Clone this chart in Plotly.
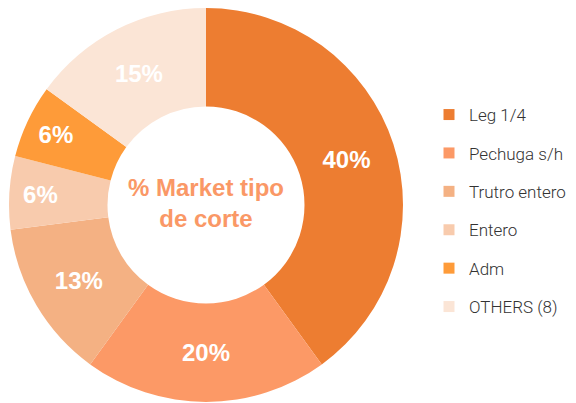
import plotly.graph_objects as go

labels = ["Leg 1/4", "Pechuga s/h", "Trutro entero", "Entero", "Adm", "OTHERS (8)"]
values = [40, 20, 13, 6, 6, 15]
colors = ["#ED7D31", "#FC9966", "#F4B183", "#F8CBAD", "#FE9B39", "#FBE5D6"]
center_title = "% Market tipo<br>de corte"

FONT = "Liberation Sans, Arial, Helvetica, sans-serif"
LEGEND_FONT = "Roboto, Liberation Sans, Arial, sans-serif"

# The page body keeps its default 8px margin, so all positions below are
# window positions minus 8.
OFF = 8
W, H = 576 - OFF, 403 - OFF
CX, CY, R = 206 - OFF, 205 - OFF, 197

fig = go.Figure()
fig.add_trace(go.Pie(
    labels=labels, values=values, hole=0.5, sort=False, direction="clockwise",
    rotation=0, marker=dict(colors=colors, line=dict(width=0)),
    texttemplate="%{percent:.0%}", textposition="inside",
    insidetextorientation="horizontal",
    textfont=dict(family=FONT, size=24, color="white", weight="bold"),
    showlegend=False, hoverinfo="label+percent",
    domain=dict(x=[(CX - R) / W, (CX + R) / W],
                y=[max(0, 1 - (CY + R) / H), min(1, 1 - (CY - R) / H)]),
))

# legend entries (one group each, so the spacing matches)
for lab, col in zip(labels, colors):
    fig.add_trace(go.Scatter(
        x=[None], y=[None], mode="markers", name=lab,
        marker=dict(symbol="square", size=11, color=col),
        legendgroup=lab, showlegend=True, hoverinfo="skip",
    ))

fig.add_annotation(
    text=center_title, x=CX / W, y=1 - (203 - OFF) / H, xref="paper", yref="paper",
    showarrow=False, font=dict(family=FONT, size=24, color="#FA9866", weight="bold"),
    align="center",
)

fig.update_layout(
    width=W, height=H,
    margin=dict(l=0, r=0, t=0, b=0, autoexpand=False),
    paper_bgcolor="white", plot_bgcolor="white",
    xaxis=dict(visible=False), yaxis=dict(visible=False),
    uniformtext=dict(minsize=24, mode="show"),
    legend=dict(
        x=(429 - OFF) / W, y=1 - (211 - OFF) / H, xanchor="left", yanchor="middle",
        font=dict(family=LEGEND_FONT, size=17, color="#333333", weight=300),
        tracegroupgap=13.3, itemwidth=30, bgcolor="rgba(0,0,0,0)",
    ),
)

fig.write_html("out.html")
